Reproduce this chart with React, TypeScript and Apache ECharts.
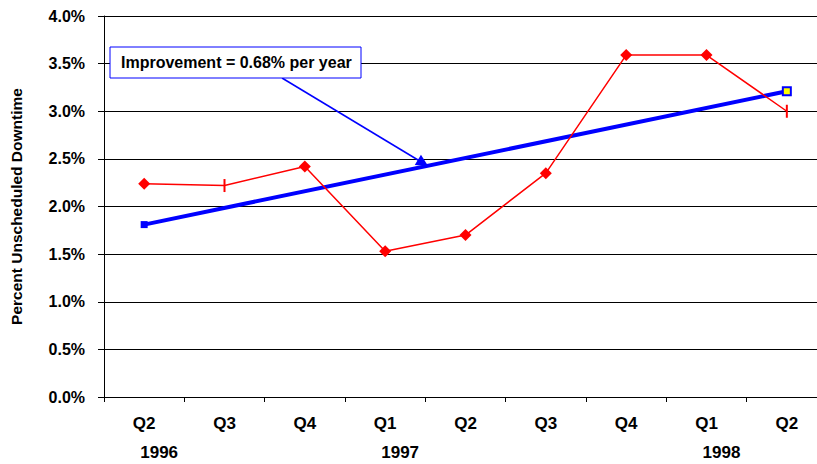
import React, { useEffect, useRef } from 'react';
import * as echarts from 'echarts';

const quarters = ['Q2', 'Q3', 'Q4', 'Q1', 'Q2', 'Q3', 'Q4', 'Q1', 'Q2'];
const years = ['1996', '', '', '1997', '', '', '', '1998', ''];
const downtime = [2.24, 2.22, 2.42, 1.53, 1.70, 2.35, 3.59, 3.59, 3.00];
const tickMarkerIdx = [1, 8];
const trend = [1.81, null, null, null, null, null, null, null, 3.21];
const chartTitle = 'Project A';
const yTitle = 'Percent Unscheduled Downtime';
const noteText = 'Improvement = 0.68% per year';

export default function App() {
  const ref = useRef<HTMLDivElement>(null);
  useEffect(() => {
    const chart = echarts.init(ref.current!, null, { renderer: 'svg' });
    const cats = quarters.map((q, i) => `${q}-${i}`);
    const font = 'Arial, "Liberation Sans", sans-serif';
    const lastIdx = trend.length - 1;
    chart.setOption({
      animation: false,
      backgroundColor: '#ffffff',
      grid: {
        left: 104,
        right: -10,
        top: 16,
        bottom: 67,
        containLabel: false,
        outerBoundsMode: 'none',
      },
      xAxis: {
        type: 'category',
        data: cats,
        boundaryGap: true,
        axisLine: { lineStyle: { color: '#000', width: 1 } },
        axisTick: { show: true, length: 5, inside: false, lineStyle: { color: '#000' } },
        splitLine: { show: false },
        axisLabel: {
          interval: 0,
          margin: 12,
          formatter: (_v: string, idx: number) =>
            years[idx] ? `{q|${quarters[idx]}}\n{y|${years[idx]}}` : `{q|${quarters[idx]}}`,
          rich: {
            q: { fontFamily: font, fontWeight: 'bold', fontSize: 17, color: '#000', lineHeight: 29 },
            y: { fontFamily: font, fontWeight: 'bold', fontSize: 17, color: '#000', lineHeight: 29, padding: [0, 0, 0, 30] },
          },
        },
      },
      yAxis: {
        type: 'value',
        min: 0,
        max: 4,
        interval: 0.5,
        axisLine: { show: true, lineStyle: { color: '#000', width: 1 } },
        axisTick: { show: true, length: 6, inside: false, lineStyle: { color: '#000' } },
        splitLine: { show: true, lineStyle: { color: '#000', width: 1 } },
        axisLabel: {
          margin: 19,
          fontFamily: font,
          fontWeight: 'bold',
          fontSize: 16,
          color: '#000',
          formatter: (v: number) => v.toFixed(1) + '%',
        },
        name: yTitle,
        nameLocation: 'middle',
        nameGap: 80,
        nameRotate: 90,
        nameTextStyle: { fontFamily: font, fontWeight: 'bold', fontSize: 15.5, color: '#000' },
      },
      series: [
        {
          type: 'line',
          data: trend.map((v, i) =>
            i === lastIdx
              ? { value: v, symbolSize: 8, itemStyle: { color: '#ffff00', borderColor: '#0000ff', borderWidth: 2 } }
              : v
          ),
          connectNulls: true,
          lineStyle: { color: '#0000ff', width: 4 },
          itemStyle: { color: '#0000ff' },
          symbol: 'rect',
          symbolSize: 7,
          z: 2,
          markLine: {
            silent: true,
            symbol: ['none', 'triangle'],
            symbolSize: [12, 12],
            label: { show: false },
            lineStyle: { color: '#0000ff', width: 1.5, type: 'solid' },
            data: [[{ x: 282, y: 78 }, { x: 423, y: 163 }]],
          },
        },
        {
          type: 'line',
          data: downtime.map((v, i) =>
            tickMarkerIdx.includes(i)
              ? { value: v, symbol: 'rect', symbolSize: [2, 13] }
              : { value: v }
          ),
          lineStyle: { color: '#ff0000', width: 1.5 },
          itemStyle: { color: '#ff0000' },
          symbol: 'diamond',
          symbolSize: 12,
          z: 3,
        },
      ],
      graphic: [
        {
          type: 'text',
          left: 'center',
          top: -20,
          style: { text: chartTitle, fontFamily: font, fontWeight: 'bold', fontSize: 19, fill: '#000' },
        },
        {
          type: 'rect',
          shape: { x: 110, y: 47, width: 251, height: 31 },
          style: { fill: '#fff', stroke: '#0000ff', lineWidth: 1 },
          z: 100,
        },
        {
          type: 'text',
          x: 121,
          y: 62.5,
          style: {
            text: noteText,
            fontFamily: font,
            fontWeight: 'bold',
            fontSize: 16,
            fill: '#000',
            textVerticalAlign: 'middle',
            verticalAlign: 'middle',
          },
          z: 101,
        },
      ],
    });
    return () => chart.dispose();
  }, []);
  return (
    <div
      ref={ref}
      style={{ position: 'fixed', left: 0, top: 0, width: 817, height: 464, background: '#fff' }}
    />
  );
}
